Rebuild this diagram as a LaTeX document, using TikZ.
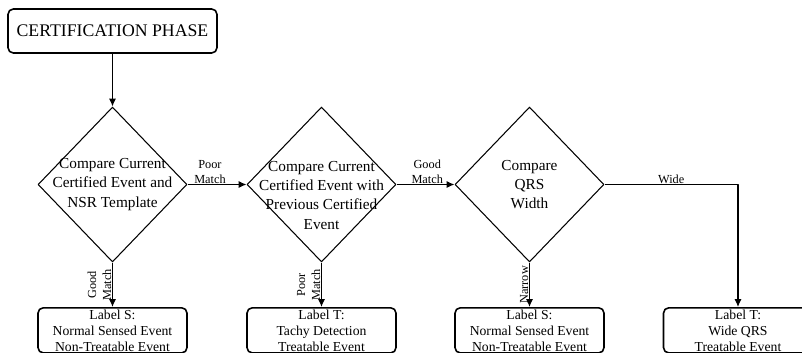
\documentclass[tikz,border=0pt]{standalone}
\usepackage{fontspec}
\setmainfont{Liberation Serif}
\usetikzlibrary{shapes.geometric,arrows.meta,positioning}

\begin{document}
\begin{tikzpicture}[
    x=0.02cm, y=-0.02cm,
    line width=0.6pt,
    line join=round,
    phase/.style={draw, rounded corners=3pt, line width=0.9pt, minimum width=4.18cm, minimum height=0.88cm, inner sep=0pt, font=\fontsize{10.1}{12}\selectfont},
    decide/.style={draw, diamond, inner sep=0pt, minimum width=2.98cm, minimum height=3.1cm},
    dtext/.style={align=center, inner sep=0pt, font=\fontsize{8.7}{11}\selectfont},
    result/.style={draw, rounded corners=3pt, line width=0.9pt, anchor=north, minimum width=2.98cm, align=center, inner xsep=2pt, inner ysep=1pt, font=\fontsize{7.8}{9.1}\selectfont},
    lbl/.style={align=center, inner sep=0.4pt, font=\fontsize{7}{8.5}\selectfont},
    arrow/.style={-{Latex[length=4.5pt,width=4pt]}}
]
\useasboundingbox (0,0) rectangle (802,352);

% 1. Start
\node[phase] (cert) at (112.5,31) {CERTIFICATION PHASE};

% 2. Decisions
\node[decide, label={[dtext]center:Compare Current\\Certified Event and\\NSR Template}] (nsr) at (112.5,184.5) {};
\node[decide, label={[dtext, yshift=-6pt]center:Compare Current\\Certified Event with\\Previous Certified\\Event}] (prev) at (321.5,184.5) {};
\node[decide, label={[dtext]center:Compare\\QRS\\Width}] (qrs) at (529.5,184.5) {};

% 3. Labels
\node[result] (s1) at (112.5,307) {Label S:\\Normal Sensed Event\\Non-Treatable Event};
\node[result] (t1) at (321.5,307) {Label T:\\Tachy Detection\\Treatable Event};
\node[result] (s2) at (529.5,307) {Label S:\\Normal Sensed Event\\Non-Treatable Event};
\node[result] (t2) at (738,307) {Label T:\\Wide QRS\\Treatable Event};

% 4. Routing
\draw[arrow] (cert) -- (nsr);
\draw[arrow] (nsr) -- node[lbl, anchor=south, xshift=-4pt] {Poor\\Match} (prev);
\draw[arrow] (prev) -- node[lbl, anchor=south, xshift=1pt] {Good\\Match} (qrs);
\draw[arrow] (qrs.east) -| node[lbl, pos=0.25, anchor=south] {Wide} (t2.north);
\draw[arrow] (nsr) -- node[lbl, anchor=south, rotate=90] {Good\\Match} (s1);
\draw[arrow] (prev) -- node[lbl, anchor=south, rotate=90] {Poor\\Match} (t1);
\draw[arrow] (qrs) -- node[lbl, anchor=south, rotate=90] {Narrow} (s2);
\end{tikzpicture}
\end{document}
